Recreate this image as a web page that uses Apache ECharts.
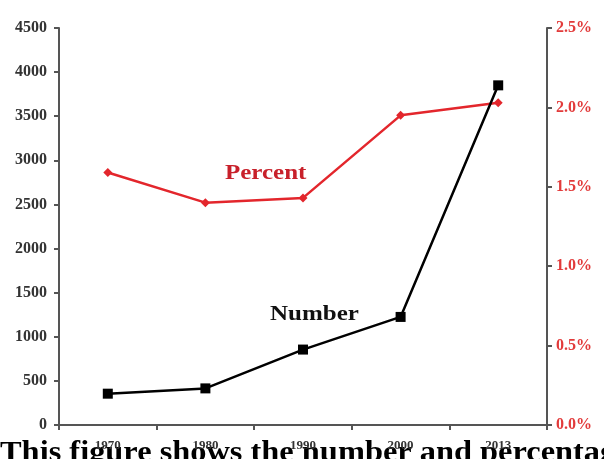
<!DOCTYPE html>
<html>
<head>
<meta charset="utf-8">
<style>
  html, body { margin: 0; padding: 0; background: #fff; }
  #chart { width: 604px; height: 459px; }
</style>
<script src="https://cdn.jsdelivr.net/npm/echarts@6/dist/echarts.min.js"></script>
</head>
<body>
<div id="chart"></div>
<script>
// Survey years and the two measured series
const years = ['1970', '1980', '1990', '2000', '2013'];
const numberValues = [355, 415, 855, 1225, 3850];
const percentValues = [1.59, 1.40, 1.43, 1.95, 2.03];

const SERIF = '"Liberation Serif", "DejaVu Serif", serif';
const RED = '#e3262c';
const AXIS = '#555555';

const chart = echarts.init(document.getElementById('chart'));

chart.setOption({
  animation: false,
  backgroundColor: '#ffffff',
  grid: { left: 59, right: 57, top: 28, bottom: 34 },
  xAxis: {
    type: 'category',
    data: years,
    boundaryGap: true,
    z: 20,
    axisLine: { lineStyle: { color: AXIS, width: 2 } },
    axisTick: { show: true, length: 5, lineStyle: { color: AXIS, width: 2 } },
    axisLabel: {
      margin: 14,
      fontFamily: SERIF, fontWeight: 'bold', fontSize: 13, color: '#333',
      backgroundColor: 'transparent'
    },
    splitLine: { show: false }
  },
  yAxis: [
    {
      type: 'value',
      min: 0, max: 4500, interval: 500,
      axisLine: { show: true, lineStyle: { color: AXIS, width: 2 } },
      axisTick: { show: true, length: 5, lineStyle: { color: AXIS, width: 2 } },
      axisLabel: {
        margin: 12,
        fontFamily: SERIF, fontWeight: 'bold', fontSize: 16, color: '#333',
        formatter: v => String(v)
      },
      splitLine: { show: false }
    },
    {
      type: 'value',
      position: 'right',
      min: 0, max: 2.5, interval: 0.5,
      axisLine: { show: true, lineStyle: { color: AXIS, width: 2 } },
      axisTick: { show: true, length: 5, lineStyle: { color: AXIS, width: 2 } },
      axisLabel: {
        margin: 9,
        fontFamily: SERIF, fontWeight: 'bold', fontSize: 16, color: '#e23a3a',
        formatter: v => v.toFixed(1) + '%'
      },
      splitLine: { show: false }
    }
  ],
  series: [
    {
      name: 'Percent',
      type: 'line',
      yAxisIndex: 1,
      data: percentValues,
      symbol: 'diamond',
      symbolSize: 9,
      itemStyle: { color: RED },
      lineStyle: { color: RED, width: 2.5 },
      z: 3
    },
    {
      name: 'Number',
      type: 'line',
      yAxisIndex: 0,
      data: numberValues,
      symbol: 'rect',
      symbolSize: 10,
      itemStyle: { color: '#000' },
      lineStyle: { color: '#000', width: 2.5 },
      z: 4
    }
  ],
  graphic: [
    {
      type: 'text', x: 225, y: 164, scaleX: 1.25,
      style: { text: 'Percent', fill: '#c8202a', font: 'bold 20px ' + SERIF }
    },
    {
      type: 'text', x: 270, y: 305, scaleX: 1.25,
      style: { text: 'Number', fill: '#111', font: 'bold 20px ' + SERIF }
    },
    {
      type: 'text', x: 0, y: 438, scaleX: 1.08, z: -20,
      style: { text: 'This figure shows the number and percentage', fill: '#000', font: 'bold 30px ' + SERIF }
    }
  ]
});
</script>
</body>
</html>
